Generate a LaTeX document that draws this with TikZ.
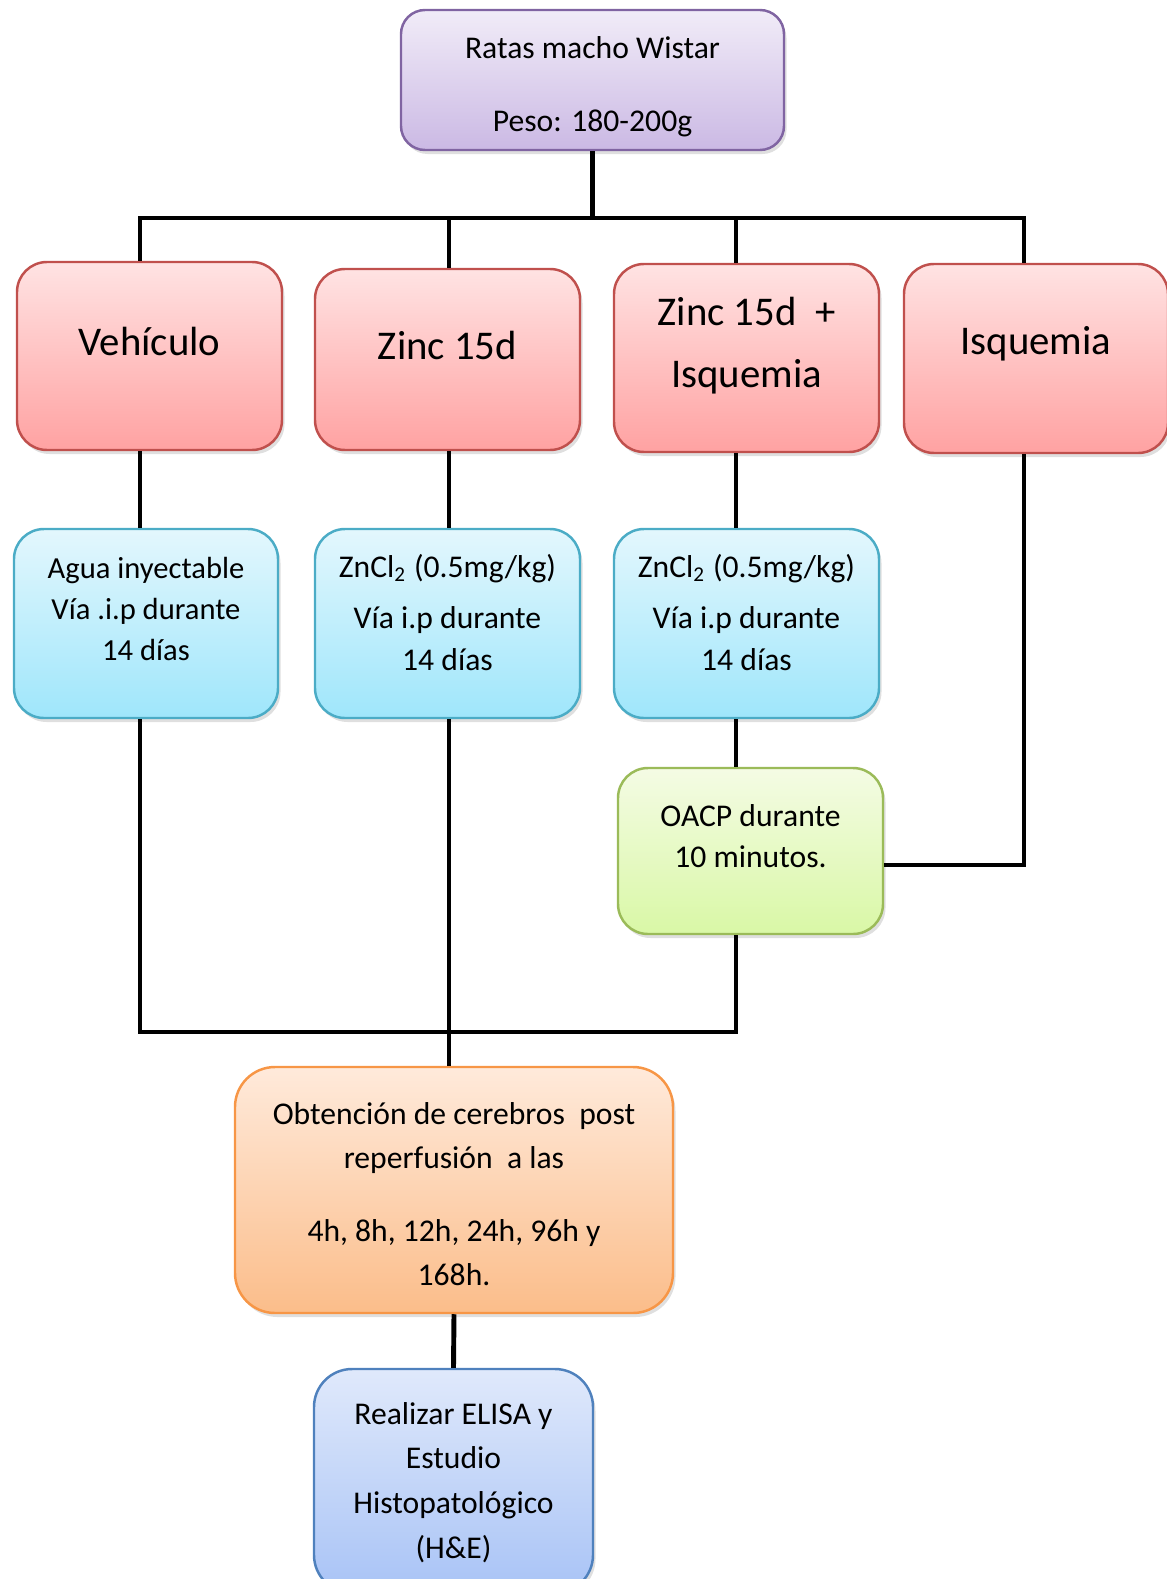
\documentclass[tikz,border=0pt]{standalone}
\usepackage{fontspec}
\setmainfont{Carlito}
\usetikzlibrary{shadows}

\definecolor{moradoB}{HTML}{8064A2}
\definecolor{moradoA}{HTML}{F1ECF8}
\definecolor{moradoC}{HTML}{CBB9E4}
\definecolor{rojoB}{HTML}{C0504D}
\definecolor{rojoA}{HTML}{FFE3E3}
\definecolor{rojoC}{HTML}{FFA2A2}
\definecolor{cianB}{HTML}{4BACC6}
\definecolor{cianA}{HTML}{E3F7FD}
\definecolor{cianC}{HTML}{9FE6FB}
\definecolor{verdeB}{HTML}{9BBB59}
\definecolor{verdeA}{HTML}{F4FBE4}
\definecolor{verdeC}{HTML}{D9F8A6}
\definecolor{naranjaB}{HTML}{F79646}
\definecolor{naranjaA}{HTML}{FFEADB}
\definecolor{naranjaC}{HTML}{FBBD8A}
\definecolor{azulB}{HTML}{4F81BD}
\definecolor{azulA}{HTML}{E0E9FB}
\definecolor{azulC}{HTML}{A8C3F6}

\newcommand{\cajatxt}[3]{\parbox{#1}{\centering #3\par\vspace{#2}}}

\tikzset{
  caja/.style={draw, line width=0.7pt, rounded corners=0.3cm, inner sep=0pt,
    drop shadow={opacity=0.25, shadow xshift=0.025cm, shadow yshift=-0.04cm},
    font=\fontsize{9}{11.8}\selectfont},
  cajamorada/.style={caja, draw=moradoB, top color=moradoA, bottom color=moradoC, rounded corners=0.24cm},
  cajaroja/.style={caja, draw=rojoB, top color=rojoA, bottom color=rojoC,
    minimum width=2.65cm, font=\fontsize{11.6}{17.6}\selectfont},
  cajacian/.style={caja, draw=cianB, top color=cianA, bottom color=cianC,
    minimum width=2.65cm, minimum height=1.89cm},
  cajaverde/.style={caja, draw=verdeB, top color=verdeA, bottom color=verdeC},
  cajanaranja/.style={caja, draw=naranjaB, top color=naranjaA, bottom color=naranjaC,
    rounded corners=0.4cm, font=\fontsize{9}{12.6}\selectfont},
  cajaazul/.style={caja, draw=azulB, top color=azulA, bottom color=azulC,
    rounded corners=0.38cm, font=\fontsize{9}{12.7}\selectfont},
  linea/.style={line width=1.4pt, line join=miter}
}

\begin{document}
\begin{tikzpicture}
\useasboundingbox (0,0) rectangle (11.66,-15.79);

% grupo inicial
\node[cajamorada, minimum width=3.83cm, minimum height=1.40cm] (ratas) at (5.925,-0.80)
  {\cajatxt{3.6cm}{-0.14cm}{Ratas macho Wistar\\[8.9pt]Peso: 180-200g}};

% grupos
\node[cajaroja, minimum height=1.88cm] (veh) at (1.495,-3.56) {\cajatxt{2.5cm}{0.29cm}{Vehículo}};
\node[cajaroja, minimum height=1.81cm] (zinc) at (4.475,-3.595) {\cajatxt{2.5cm}{0.29cm}{Zinc 15d}};
\node[cajaroja, minimum height=1.88cm] (zinciq) at (7.465,-3.58) {\cajatxt{2.5cm}{0.24cm}{Zinc 15d\ \ +\\Isquemia}};
\node[cajaroja, minimum height=1.89cm, minimum width=2.64cm] (isq) at (10.36,-3.585) {\cajatxt{2.5cm}{0.29cm}{Isquemia}};

% tratamientos
\node[cajacian, minimum width=2.64cm] (agua) at (1.46,-6.235)
  {\cajatxt{2.5cm}{0.29cm}{\fontsize{8.7}{11.8}\selectfont Agua inyectable\\Vía .i.p durante\\14 días}};
\node[cajacian] (zncl) at (4.475,-6.235)
  {\cajatxt{2.5cm}{0.22cm}{ZnCl\textsubscript{2} (0.5mg/kg)\\[2.6pt]Vía i.p durante\\14 días}};
\node[cajacian] (zncliq) at (7.465,-6.235)
  {\cajatxt{2.5cm}{0.22cm}{ZnCl\textsubscript{2} (0.5mg/kg)\\[2.6pt]Vía i.p durante\\14 días}};

\node[cajaverde, minimum width=2.65cm, minimum height=1.66cm] (oacp) at (7.505,-8.51)
  {\cajatxt{2.5cm}{0.3cm}{OACP durante\\10 minutos.}};

% obtencion y analisis
\node[cajanaranja, minimum width=4.38cm, minimum height=2.46cm] (obt) at (4.54,-11.90)
  {\cajatxt{4.2cm}{-0.08cm}{Obtención de cerebros\ \ post\\reperfusión\ \ a las\\[8pt]4h, 8h, 12h, 24h, 96h y\\168h.}};
\node[cajaazul, minimum width=2.79cm, minimum height=2.24cm] (elisa) at (4.535,-14.81)
  {\cajatxt{2.6cm}{-0.03cm}{Realizar ELISA y\\Estudio\\Histopatológico\\(H\&E)}};

% conectores
\coordinate (colA) at (1.40,-2.18);
\coordinate (colB) at (4.49,-2.18);
\coordinate (colC) at (7.36,-2.18);
\coordinate (colD) at (10.24,-2.18);
\coordinate (junta) at (1.40,-10.32);

\draw[linea] (ratas.south) -- (ratas.south |- colA);
\draw[linea] (colA |- veh.north) -- (colA) -- (colD) -- (colD |- isq.north);
\draw[linea] (colB) -- (colB |- zinc.north);
\draw[linea] (colC) -- (colC |- zinciq.north);

\draw[linea] (colA |- veh.south) -- (colA |- agua.north);
\draw[linea] (colB |- zinc.south) -- (colB |- zncl.north);
\draw[linea] (colC |- zinciq.south) -- (colC |- zncliq.north);
\draw[linea] (colC |- zncliq.south) -- (colC |- oacp.north);
\draw[linea] (colD |- isq.south) |- ([yshift=-0.14cm]oacp.east);

\draw[linea] (colA |- agua.south) |- (colC |- junta) -- (colC |- oacp.south);
\draw[linea] (colB |- zncl.south) -- (colB |- obt.north);
\draw[linea] (obt.south) -- (elisa.north);
\end{tikzpicture}
\end{document}
